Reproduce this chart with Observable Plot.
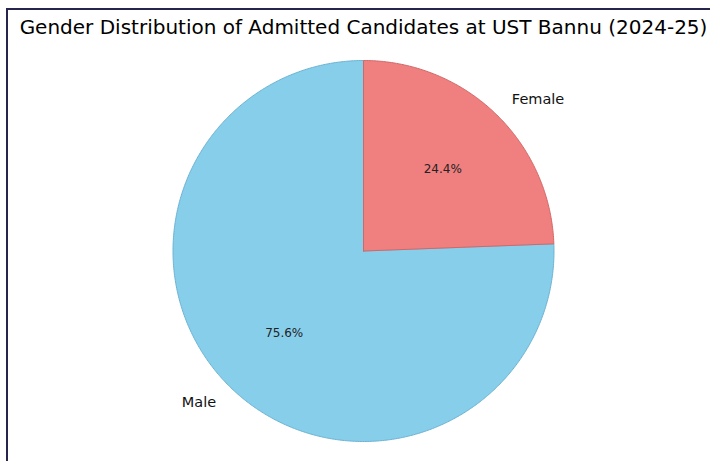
<!DOCTYPE html>
<html>
<head>
<meta charset="utf-8">
<script src="https://cdn.jsdelivr.net/npm/d3@7"></script>
<script src="https://cdn.jsdelivr.net/npm/@observablehq/plot@0.6"></script>
<style>
  html, body { margin: 0; padding: 0; background: #fff; overflow: hidden; }
  #wrap { position: relative; width: 710px; height: 461px; }
  #border { position: absolute; left: 6px; top: 8px; width: 900px; height: 700px;
            border-left: 2px solid #25254d; border-top: 2px solid #25254d; pointer-events: none; }
  svg { position: absolute; left: 0; top: 0; }
</style>
</head>
<body>
<div id="wrap"><div id="border"></div></div>
<script>
const title = "Gender Distribution of Admitted Candidates at UST Bannu (2024-25)";
const categories = ["Male", "Female"];
const shares = [75.6, 24.4];
const fillColors = ["#87CEEB", "#F08080"];
const edgeColors = ["#6cb3d2", "#d16868"];
const startAngle = 90; // degrees, counter-clockwise

// Derive slice geometry from the shares (degrees, counter-clockwise from +x axis)
const total = d3.sum(shares);
let acc = startAngle;
const slices = categories.map((c, i) => {
  const a0 = acc;
  const a1 = acc + 360 * shares[i] / total;
  acc = a1;
  return {category: c, share: shares[i], a0, a1, mid: (a0 + a1) / 2, i};
});

const rad = d => d * Math.PI / 180;
function slicePoints(s) {
  const pts = [{x: 0, y: 0}];
  const n = Math.max(2, Math.ceil((s.a1 - s.a0) / 0.5));
  for (let k = 0; k <= n; k++) {
    const a = rad(s.a0 + (s.a1 - s.a0) * k / n);
    pts.push({x: Math.cos(a), y: Math.sin(a)});
  }
  pts.push({x: 0, y: 0});
  return pts;
}

const labels = slices.map(s => ({
  text: s.category,
  x: 1.1 * Math.cos(rad(s.mid)),
  y: 1.1 * Math.sin(rad(s.mid)),
  anchor: Math.cos(rad(s.mid)) >= 0 ? "start" : "end"
}));
const pcts = slices.map(s => ({
  text: s.share.toFixed(1) + "%",
  x: 0.6 * Math.cos(rad(s.mid)),
  y: 0.6 * Math.sin(rad(s.mid))
}));

const W = 710, H = 461, cx = 363, cy = 250.5, R = 190.5;

const marks = [];
slices.forEach(s => {
  marks.push(Plot.line(slicePoints(s), {
    x: "x", y: "y", fill: fillColors[s.i], stroke: edgeColors[s.i],
    strokeWidth: 1, curve: "linear"
  }));
});
marks.push(Plot.text(labels.filter(d => d.anchor === "start"), {x: "x", y: "y", text: "text", textAnchor: "start", dx: 3, dy: -1, fontSize: 14.5, fill: "#111"}));
marks.push(Plot.text(labels.filter(d => d.anchor === "end"), {x: "x", y: "y", text: "text", textAnchor: "end", dx: -2, fontSize: 14.5, fill: "#111"}));
marks.push(Plot.text(pcts, {x: "x", y: "y", text: "text", fontSize: 12, fill: "#222"}));
marks.push(Plot.text([title], {frameAnchor: "top", lineAnchor: "middle", dx: cx - W / 2, dy: 27, fontSize: 20, fill: "#000"}));

const chart = Plot.plot({
  width: W, height: H,
  margin: 0,
  style: {fontFamily: "DejaVu Sans", background: "transparent"},
  x: {domain: [-cx / R, (W - cx) / R], axis: null},
  y: {domain: [-(H - cy) / R, cy / R], axis: null},
  marks
});
document.getElementById("wrap").insertBefore(chart, document.getElementById("border"));
</script>
</body>
</html>
